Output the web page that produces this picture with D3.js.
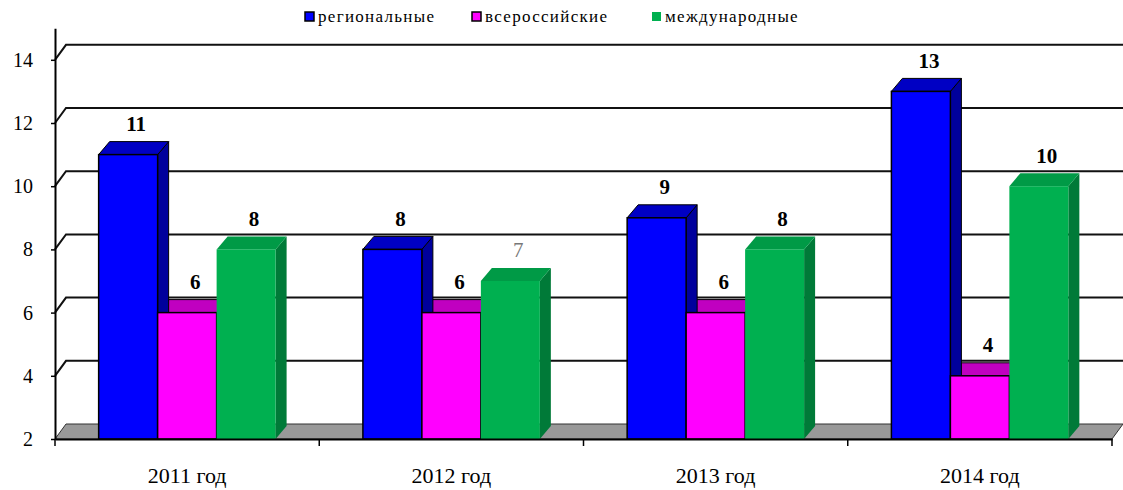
<!DOCTYPE html>
<html>
<head>
<meta charset="utf-8">
<script src="https://cdn.jsdelivr.net/npm/d3@7"></script>
<style>
  body { margin: 0; background: #fff; }
  svg { display: block; font-family: "Liberation Serif", "Times New Roman", serif; }
</style>
</head>
<body>
<svg id="chart" width="1123" height="490"></svg>
<script>
var categories = ['2011 год', '2012 год', '2013 год', '2014 год'];
var seriesNames = ['региональные', 'всероссийские', 'международные'];
var regional = [11, 8, 9, 13];
var allRussian = [6, 6, 6, 4];
var international = [8, 7, 8, 10];
var yTicks = [2, 4, 6, 8, 10, 12, 14];

(function () {
    var seriesValues = [regional, allRussian, international];
    var colors = [
        {front: '#0000ff', top: '#0000c4', side: '#00009c', stroke: '#000'},
        {front: '#ff00ff', top: '#c000c0', side: '#990099', stroke: '#000'},
        {front: '#00b050', top: '#009a46', side: '#007a38', stroke: 'none'}
    ];

    var svg = d3.select('#chart');
    var left = 55, right = 1112, bottom = 439;
    var wdx = 11, wdy = -15;   // wall depth
    var bdx = 11, bdy = -13;   // bar depth

    var y = d3.scaleLinear().domain([2, 15]).range([bottom, bottom - 13 * 31.6]);
    var x0 = d3.scaleBand().domain(categories).range([left, right]).paddingInner(0).paddingOuter(0);
    var x1 = d3.scaleBand().domain(seriesNames).range([0, x0.bandwidth()]).paddingInner(0).paddingOuter(0.74);

    // back wall gridlines
    svg.append('g').selectAll('path').data(yTicks.filter(function (v) { return v > 2; }))
        .enter().append('path')
        .attr('d', function (v) {
            return 'M' + left + ',' + y(v) + 'L' + (left + wdx) + ',' + (y(v) + wdy) + 'L' + (right + wdx) + ',' + (y(v) + wdy);
        })
        .attr('fill', 'none').attr('stroke', '#111').attr('stroke-width', 2);

    // floor
    svg.append('path')
        .attr('d', 'M' + left + ',' + bottom + 'L' + right + ',' + bottom + 'L' + (right + wdx) + ',' + (bottom + wdy) + 'L' + (left + wdx) + ',' + (bottom + wdy) + 'Z')
        .attr('fill', '#999').attr('stroke', '#333').attr('stroke-width', 1);

    var points = [];
    categories.forEach(function (c, ci) {
        seriesNames.forEach(function (s, si) {
            points.push({cat: c, ci: ci, s: s, si: si, v: seriesValues[si][ci]});
        });
    });
    function bx(d) { return x0(d.cat) + x1(d.s); }
    var bw = x1.bandwidth();

    // tops and sides, right to left
    var back = svg.append('g');
    points.slice().reverse().forEach(function (d) {
        var xa = bx(d), xb = xa + bw, yt = y(d.v), c = colors[d.si];
        back.append('path')
            .attr('d', 'M' + xb + ',' + yt + 'L' + (xb + bdx) + ',' + (yt + bdy) + 'L' + (xb + bdx) + ',' + (bottom + bdy) + 'L' + xb + ',' + bottom + 'Z')
            .attr('fill', c.side).attr('stroke', c.stroke).attr('stroke-width', 1);
        back.append('path')
            .attr('d', 'M' + xa + ',' + yt + 'L' + (xa + bdx) + ',' + (yt + bdy) + 'L' + (xb + bdx) + ',' + (yt + bdy) + 'L' + xb + ',' + yt + 'Z')
            .attr('fill', c.top).attr('stroke', c.stroke).attr('stroke-width', 1);
    });

    // fronts
    svg.append('g').selectAll('rect').data(points).enter().append('rect')
        .attr('x', bx).attr('y', function (d) { return y(d.v); })
        .attr('width', bw).attr('height', function (d) { return bottom - y(d.v); })
        .attr('fill', function (d) { return colors[d.si].front; })
        .attr('stroke', function (d) { return colors[d.si].stroke; }).attr('stroke-width', 1.5);

    // y axis
    var yAxis = svg.append('g').attr('transform', 'translate(' + left + ',0)')
        .call(d3.axisLeft(y).tickValues(yTicks).tickSize(4).tickSizeOuter(0).tickPadding(18));
    yAxis.select('.domain').attr('stroke', '#000').attr('stroke-width', 2);
    yAxis.selectAll('.tick line').attr('stroke', '#000').attr('stroke-width', 1.5);
    yAxis.selectAll('text').attr('font-size', 20).attr('fill', '#000')
        .attr('font-family', '"Liberation Serif", serif');

    // x axis
    var xAxis = svg.append('g').attr('transform', 'translate(0,' + bottom + ')')
        .call(d3.axisBottom(x0).tickSize(0).tickSizeOuter(0).tickPadding(28));
    xAxis.select('.domain').attr('stroke', '#000').attr('stroke-width', 2);
    xAxis.selectAll('text').attr('font-size', 22).attr('fill', '#000')
        .attr('font-family', '"Liberation Serif", serif');
    svg.append('g').selectAll('line').data(d3.range(categories.length + 1)).enter().append('line')
        .attr('x1', function (i) { return left + i * x0.step(); })
        .attr('x2', function (i) { return left + i * x0.step(); })
        .attr('y1', bottom).attr('y2', bottom + 7)
        .attr('stroke', '#000').attr('stroke-width', 1.5);

    // data labels
    var lab = svg.append('g').selectAll('g').data(points).enter().append('g')
        .attr('transform', function (d) { return 'translate(' + (bx(d) + bw / 2 + 8) + ',' + (y(d.v) - 31) + ')'; });
    lab.append('rect').attr('x', -20).attr('y', -10).attr('width', 40).attr('height', 20).attr('fill', '#fff');
    lab.append('text')
        .attr('text-anchor', 'middle').attr('dy', '0.35em')
        .attr('font-size', 21)
        .attr('font-weight', function (d) { return d.ci === 1 && d.si === 2 ? 'normal' : 'bold'; })
        .attr('fill', function (d) { return d.ci === 1 && d.si === 2 ? '#777' : '#000'; })
        .text(function (d) { return d.v; });

    // legend
    var legend = svg.append('g');
    var lx = 305;
    var gaps = [167, 180];
    seriesNames.forEach(function (s, i) {
        var g = legend.append('g').attr('transform', 'translate(' + lx + ',12)');
        g.append('rect').attr('width', 9).attr('height', 9)
            .attr('fill', colors[i].front)
            .attr('stroke', i < 2 ? '#000' : 'none').attr('stroke-width', 1.5);
        g.append('text').attr('x', 13).attr('y', 10)
            .attr('font-size', 17).attr('letter-spacing', '1.3px').attr('fill', '#000')
            .text(s);
        if (i < gaps.length) lx += gaps[i];
    });
})();
</script>
</body>
</html>
